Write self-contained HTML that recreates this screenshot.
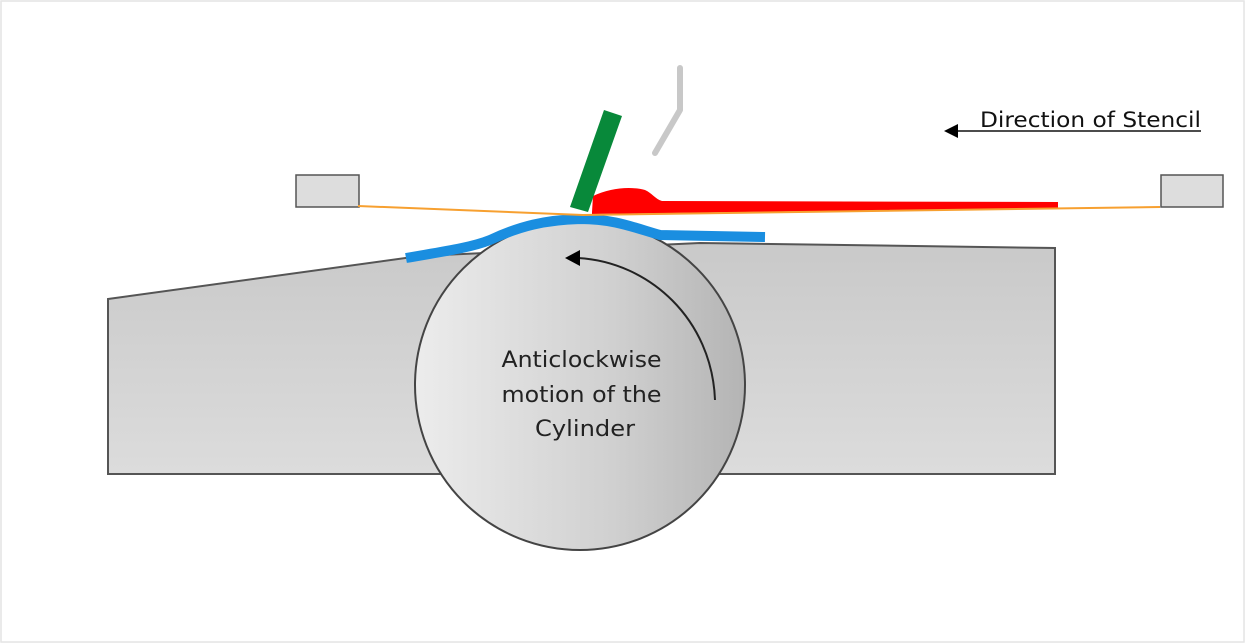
<!DOCTYPE html>
<html><head><style>
html,body{margin:0;padding:0;background:#fff;}
svg{display:block;}
</style></head><body>
<svg width="1245" height="643" viewBox="0 0 1245 643" xmlns="http://www.w3.org/2000/svg">
<defs>
<linearGradient id="bg" x1="0" y1="0" x2="0" y2="1">
<stop offset="0" stop-color="#c9c9c9"/><stop offset="1" stop-color="#dcdcdc"/>
</linearGradient>
<linearGradient id="cg" x1="0" y1="0" x2="1" y2="0">
<stop offset="0" stop-color="#ececec"/><stop offset="0.6" stop-color="#d0d0d0"/><stop offset="1" stop-color="#b4b4b4"/>
</linearGradient>
</defs>
<rect x="1" y="1" width="1243" height="641" fill="#fff" stroke="#e4e4e4" stroke-width="1.5"/>
<polygon points="108,299 420,256 700,243 1055,248 1055,474 108,474" fill="url(#bg)" stroke="#555" stroke-width="2"/>
<circle cx="580" cy="385" r="165" fill="url(#cg)" stroke="#444" stroke-width="2"/>
<path d="M715,400 C712,320 650,262 578,258" fill="none" stroke="#222" stroke-width="2"/>
<polygon points="565,258 580,250 580,266" fill="#000"/>
<text font-family="DejaVu Sans, sans-serif" font-size="22" fill="#222" text-anchor="middle">
<tspan x="585" y="367" textLength="160" lengthAdjust="spacingAndGlyphs">Anticlockwise</tspan>
<tspan x="585" y="402" textLength="160" lengthAdjust="spacingAndGlyphs">motion of the</tspan>
<tspan x="585" y="436" textLength="100" lengthAdjust="spacingAndGlyphs">Cylinder</tspan>
</text>
<rect x="296" y="175" width="63" height="32" fill="#ddd" stroke="#555" stroke-width="1.5"/>
<rect x="1161" y="175" width="62" height="32" fill="#ddd" stroke="#555" stroke-width="1.5"/>
<path d="M406,258 C440,252 470,248 490,240 C520,226 545,220 580,219 C615,219 635,228 660,235 L765,237" fill="none" stroke="#1a8ee0" stroke-width="10"/>
<path d="M592,212 L593,196 C610,188 630,186 645,190 C652,193 655,199 662,201 L1058,202 L1058,208 L592,214 Z" fill="#f00"/>
<polyline points="358,206 583,215 1160,207" fill="none" stroke="#f7a030" stroke-width="2"/>
<polygon points="604,110 622,116 588,212 570,207" fill="#08893a"/>
<polyline points="680,68 680,110 655,153" fill="none" stroke="#c8c8c8" stroke-width="6" stroke-linecap="round" stroke-linejoin="round"/>
<text x="980" y="127" font-family="DejaVu Sans, sans-serif" font-size="21" fill="#111" textLength="221" lengthAdjust="spacingAndGlyphs">Direction of Stencil</text>
<line x1="955" y1="131" x2="1201" y2="131" stroke="#111" stroke-width="1.5"/>
<polygon points="944,131 958,124 958,138" fill="#000"/>
</svg>
</body></html>
